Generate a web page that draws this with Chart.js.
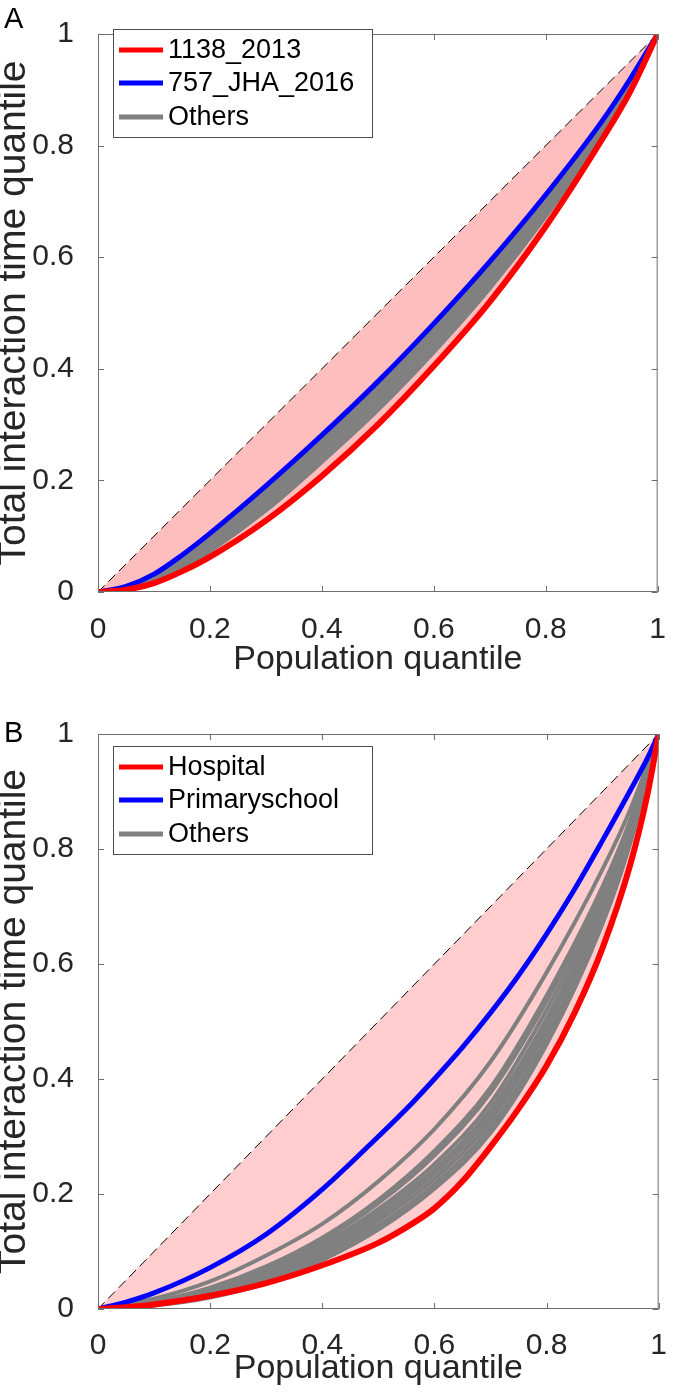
<!DOCTYPE html>
<html>
<head>
<meta charset="utf-8">
<script src="https://cdn.jsdelivr.net/npm/chart.js@4.4.0/dist/chart.umd.min.js"></script>
<style>
  html, body { margin: 0; padding: 0; background: #fff; }
  canvas { position: absolute; left: 0; }
  #chartA { top: 0; }
  #chartB { top: 700px; }
</style>
</head>
<body>
<canvas id="chartA" width="678" height="700"></canvas>
<canvas id="chartB" width="678" height="695"></canvas>
<script>
// ---- data ----
const tickVals = [0, 0.2, 0.4, 0.6, 0.8, 1]
const tickLabels = ['0', '0.2', '0.4', '0.6', '0.8', '1']
const diagX = [0, 1]
const diagY = [0, 1]

// panel A
const labelsA = ['1138_2013', '757_JHA_2016', 'Others']
const popA = [0, 0.05, 0.1, 0.15, 0.2, 0.3, 0.4, 0.5, 0.6, 0.7, 0.8, 0.9, 0.95, 1]
const redA = [0, 0.004, 0.016, 0.037, 0.063, 0.128, 0.208, 0.3, 0.405, 0.52, 0.655, 0.81, 0.895, 1]
const blueA = [0, 0.01, 0.032, 0.066, 0.105, 0.19, 0.281, 0.377, 0.481, 0.592, 0.712, 0.843, 0.918, 1]
const othersA = [
    [0, 0.009, 0.029, 0.06, 0.097, 0.18, 0.272, 0.369, 0.473, 0.584, 0.705, 0.838, 0.915, 1],
    [0, 0.008, 0.027, 0.056, 0.092, 0.174, 0.265, 0.361, 0.465, 0.576, 0.698, 0.833, 0.912, 1],
    [0, 0.007, 0.025, 0.053, 0.087, 0.167, 0.257, 0.353, 0.457, 0.568, 0.691, 0.829, 0.909, 1],
    [0, 0.007, 0.023, 0.05, 0.083, 0.161, 0.25, 0.344, 0.448, 0.56, 0.685, 0.825, 0.906, 1],
    [0, 0.006, 0.021, 0.046, 0.078, 0.153, 0.241, 0.335, 0.439, 0.552, 0.679, 0.821, 0.904, 1],
    [0, 0.005, 0.019, 0.043, 0.073, 0.146, 0.233, 0.326, 0.43, 0.544, 0.673, 0.818, 0.902, 1]
]

// panel B
const labelsB = ['Hospital', 'Primaryschool', 'Others']
const popB = [0, 0.05, 0.1, 0.2, 0.3, 0.4, 0.5, 0.56, 0.6, 0.65, 0.7, 0.75, 0.8, 0.85, 0.9, 0.95, 0.98, 1]
const redB = [0, 0.003, 0.008, 0.023, 0.045, 0.076, 0.115, 0.148, 0.175, 0.222, 0.282, 0.348, 0.423, 0.515, 0.628, 0.775, 0.895, 1]
const blueB = [0, 0.012, 0.028, 0.072, 0.13, 0.208, 0.3, 0.358, 0.4, 0.455, 0.515, 0.58, 0.652, 0.73, 0.815, 0.903, 0.958, 1]
const popOthersB = [0, 0.1, 0.2, 0.3, 0.4, 0.5, 0.6, 0.7, 0.8, 0.9, 0.95, 1]
const othersB = [
    [0, 0.018, 0.048, 0.093, 0.148, 0.222, 0.313, 0.43, 0.585, 0.765, 0.87, 1],
    [0, 0.013, 0.037, 0.074, 0.124, 0.19, 0.275, 0.385, 0.545, 0.735, 0.852, 1],
    [0, 0.012, 0.034, 0.07, 0.119, 0.184, 0.267, 0.376, 0.535, 0.728, 0.848, 1],
    [0, 0.011, 0.031, 0.065, 0.112, 0.174, 0.252, 0.358, 0.52, 0.716, 0.84, 1],
    [0, 0.01, 0.029, 0.061, 0.106, 0.167, 0.243, 0.347, 0.505, 0.706, 0.834, 1],
    [0, 0.009, 0.027, 0.057, 0.101, 0.16, 0.235, 0.337, 0.495, 0.698, 0.829, 1],
    [0, 0.008, 0.025, 0.053, 0.096, 0.153, 0.226, 0.327, 0.485, 0.69, 0.824, 1],
    [0, 0.007, 0.022, 0.049, 0.09, 0.145, 0.217, 0.316, 0.472, 0.68, 0.818, 1],
    [0, 0.006, 0.02, 0.045, 0.085, 0.138, 0.209, 0.306, 0.46, 0.67, 0.812, 1]
]

const FONT = "'Liberation Sans', Arial, Helvetica, sans-serif"
const AXIS_COLOR = '#6e6e6e'

function pts(xs, ys) {
    return xs.map((x, i) => ({ x: x, y: ys[i] }))
}

// frame with inward ticks, legend box and panel letter
const decorPlugin = {
    id: 'decor',
    afterDraw(chart, args, opts) {
        const ctx = chart.ctx
        const a = chart.chartArea
        const xs = chart.scales.x, ys = chart.scales.y
        ctx.save()
        ctx.strokeStyle = AXIS_COLOR
        ctx.lineWidth = 1
        ctx.strokeRect(a.left + 0.5, a.top + 0.5, a.right - a.left - 1, a.bottom - a.top - 1)
        ctx.beginPath()
        tickVals.forEach(v => {
            const px = Math.round(xs.getPixelForValue(v)) + 0.5
            const py = Math.round(ys.getPixelForValue(v)) + 0.5
            ctx.moveTo(px, a.bottom); ctx.lineTo(px, a.bottom - 6)
            ctx.moveTo(px, a.top); ctx.lineTo(px, a.top + 6)
            ctx.moveTo(a.left, py); ctx.lineTo(a.left + 6, py)
            ctx.moveTo(a.right, py); ctx.lineTo(a.right - 6, py)
        })
        ctx.stroke()

        // legend
        const lx = 113, ly = opts.legendTop, lw = 259, lh = 108
        ctx.fillStyle = '#fff'
        ctx.fillRect(lx, ly, lw, lh)
        ctx.strokeStyle = '#4d4d4d'
        ctx.strokeRect(lx + 0.5, ly + 0.5, lw, lh)
        const rows = chart.data.datasets.filter(d => d.inLegend)
        const rowY = [21, 54, 88]
        ctx.font = '27px ' + FONT
        ctx.textBaseline = 'middle'
        ctx.textAlign = 'left'
        rows.forEach((d, i) => {
            const y = ly + rowY[i]
            ctx.strokeStyle = d.borderColor
            ctx.lineWidth = 5
            ctx.beginPath()
            ctx.moveTo(119, y); ctx.lineTo(163, y)
            ctx.stroke()
            ctx.fillStyle = '#000'
            ctx.fillText(d.label, 168, y + 1)
        })

        // panel letter
        ctx.font = '29px ' + FONT
        ctx.textBaseline = 'alphabetic'
        ctx.fillStyle = '#000'
        ctx.fillText(opts.letter, 4, opts.letterY)
        ctx.restore()
    }
}

function buildDatasets(labels, popx, red, blue, popOthers, others, fillColor) {
    const ds = []
    ds.push({ label: labels[0], inLegend: true, data: pts(popx, red), borderColor: 'rgb(255,0,0)', borderWidth: 6,
        fill: { target: others.length + 2 }, backgroundColor: fillColor })
    ds.push({ label: labels[1], inLegend: true, data: pts(popx, blue), borderColor: 'rgb(0,0,255)', borderWidth: 5, fill: false })
    others.forEach((o, i) => {
        ds.push({ label: i === 0 ? labels[2] : '', inLegend: i === 0, data: pts(popOthers, o),
            borderColor: 'rgb(128,128,128)', borderWidth: 4, fill: false })
    })
    ds.push({ label: 'diag', data: pts(diagX, diagY), borderColor: '#000', borderWidth: 1, borderDash: [9, 6], fill: false })
    return ds
}

function makeChart(id, datasets, o) {
    return new Chart(document.getElementById(id), {
        type: 'line',
        data: { datasets: datasets },
        options: {
            responsive: false,
            animation: false,
            devicePixelRatio: 1,
            layout: { padding: { top: o.padTop, right: 3, left: 0, bottom: 0 } },
            elements: {
                point: { radius: 0 },
                line: { cubicInterpolationMode: 'monotone', borderCapStyle: 'round', borderJoinStyle: 'round' }
            },
            scales: {
                x: {
                    type: 'linear', min: 0, max: 1,
                    grid: { display: false }, border: { display: false },
                    afterFit: s => { s.height = o.xAxisHeight },
                    afterBuildTicks: s => { s.ticks = tickVals.map(v => ({ value: v })) },
                    ticks: { padding: o.xTickPad, color: '#262626', font: { family: FONT, size: 30 },
                        maxRotation: 0, callback: (v, i) => tickLabels[i] },
                    title: { display: true, text: 'Population quantile', color: '#262626',
                        font: { family: FONT, size: 34 }, padding: { top: 0, bottom: o.xTitlePad } }
                },
                y: {
                    type: 'linear', min: 0, max: 1,
                    grid: { display: false }, border: { display: false },
                    afterFit: s => { s.width = 98 },
                    afterBuildTicks: s => { s.ticks = tickVals.map(v => ({ value: v })) },
                    ticks: { padding: 16, color: '#262626', font: { family: FONT, size: 30 },
                        callback: (v, i) => tickLabels[i] },
                    title: { display: true, text: 'Total interaction time quantile', color: '#262626',
                        font: { family: FONT, size: 39 }, padding: { top: -9, bottom: 0 } }
                }
            },
            plugins: {
                legend: { display: false },
                tooltip: { enabled: false },
                filler: { drawTime: 'beforeDatasetsDraw' },
                decor: { letter: o.letter, letterY: o.letterY, legendTop: o.legendTop }
            }
        },
        plugins: [decorPlugin]
    })
}

makeChart('chartA', buildDatasets(labelsA, popA, redA, blueA, popA, othersA, 'rgb(255,190,190)'),
    { padTop: 15, xAxisHeight: 108, xTickPad: 12, xTitlePad: 20, letter: 'A', letterY: 28, legendTop: 29 })

makeChart('chartB', buildDatasets(labelsB, popB, redB, blueB, popOthersB, othersB, 'rgb(255,205,205)'),
    { padTop: 32, xAxisHeight: 86, xTickPad: 11, xTitlePad: 6, letter: 'B', letterY: 42, legendTop: 46 })
</script>
</body>
</html>
